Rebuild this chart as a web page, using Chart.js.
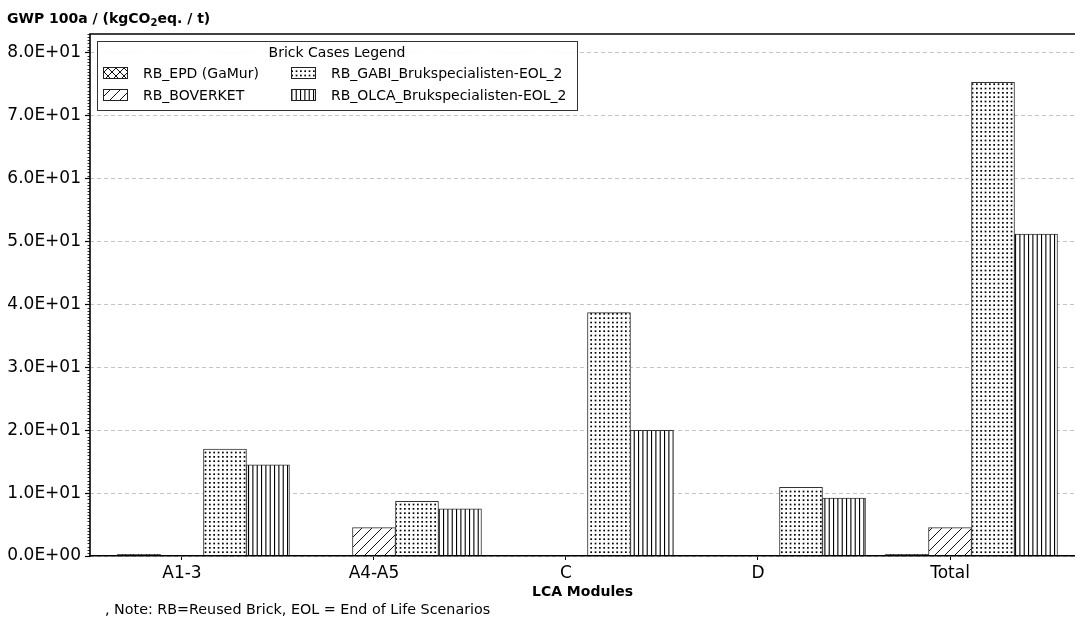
<!DOCTYPE html>
<html>
<head>
<meta charset="utf-8">
<title>GWP 100a by LCA module</title>
<script src="https://cdn.jsdelivr.net/npm/chart.js@4.4.1/dist/chart.umd.min.js"></script>
<style>
  html, body { margin: 0; padding: 0; background: #ffffff; overflow: hidden; }
  canvas { display: block; }
</style>
</head>
<body>
<canvas id="chart" width="1075" height="622"></canvas>
<script>
// ---- data -------------------------------------------------------------
const modules = ['A1-3', 'A4-A5', 'C', 'D', 'Total'];
const caseNames = [
  'RB_EPD (GaMur)',
  'RB_BOVERKET',
  'RB_GABI_Brukspecialisten-EOL_2',
  'RB_OLCA_Brukspecialisten-EOL_2'
];
const rbEpd      = [0.25, null, null, null, 0.25];
const rbBoverket = [null, 4.5, null, null, 4.5];
const rbGabi     = [17.0, 8.7, 38.7, 10.9, 75.3];
const rbOlca     = [14.5, 7.5, 20.0, 9.2, 51.2];
const yTickValues = [0, 10, 20, 30, 40, 50, 60, 70, 80];

const yTitle = ['GWP 100a / (kgCO', '2', 'eq. / t)'];
const xTitle = 'LCA Modules';
const legendTitle = 'Brick Cases Legend';
const noteText = ', Note: RB=Reused Brick, EOL = End of Life Scenarios';

// ---- hatch patterns ---------------------------------------------------
const FONT = "'DejaVu Sans', 'Liberation Sans', sans-serif";
const canvas = document.getElementById('chart');
const mainCtx = canvas.getContext('2d');

function hatch(kind) {
  const t = document.createElement('canvas');
  let w = 10, h = 10;
  if (kind === 'cross') { w = 8; h = 8; }
  if (kind === 'dots') { w = 13; h = 13; }
  if (kind === 'vert') { w = 13; h = 4; }
  t.width = w; t.height = h;
  const g = t.getContext('2d');
  g.fillStyle = '#ffffff';
  g.fillRect(0, 0, w, h);
  g.strokeStyle = '#111111';
  g.fillStyle = '#111111';
  g.lineWidth = 1;
  if (kind === 'cross') {
    g.beginPath();
    g.moveTo(0, 0); g.lineTo(w, h);
    g.moveTo(0, h); g.lineTo(w, 0);
    g.stroke();
  } else if (kind === 'diag') {
    g.beginPath();
    g.moveTo(0, h); g.lineTo(w, 0);
    g.moveTo(-w / 2, h / 2); g.lineTo(w / 2, -h / 2);
    g.moveTo(w / 2, h * 1.5); g.lineTo(w * 1.5, h / 2);
    g.stroke();
  } else if (kind === 'dots') {
    g.fillStyle = '#000000';
    const pos = [1, 5.33, 9.67];
    for (const px of pos) for (const py of pos) g.fillRect(px, py, 1.7, 1.7);
  } else if (kind === 'vert') {
    g.fillStyle = '#000000';
    for (const px of [1, 5.33, 9.67]) g.fillRect(px, 0, 1.1, h);
  }
  return mainCtx.createPattern(t, 'repeat');
}

const fills = [hatch('cross'), hatch('diag'), hatch('dots'), hatch('vert')];
const seriesValues = [rbEpd, rbBoverket, rbGabi, rbOlca];

function sci(v) {
  if (v === 0) return '0.0E+00';
  const e = Math.floor(Math.log10(Math.abs(v)));
  const m = v / Math.pow(10, e);
  return m.toFixed(1) + 'E' + (e < 0 ? '-' : '+') + String(Math.abs(e)).padStart(2, '0');
}

// A leading empty slot keeps each group's second bar centred on its module tick.
const datasets = [{ label: '', data: [], backgroundColor: 'rgba(0,0,0,0)', borderWidth: 0 }];
seriesValues.forEach((vals, k) => {
  datasets.push({
    label: caseNames[k],
    data: vals.map((v, i) => ({ x: i, y: v })),
    backgroundColor: fills[k],
    borderColor: '#333333',
    borderWidth: 1,
    borderSkipped: 'start',
    barThickness: 43
  });
});

// ---- decorations drawn around the plot ---------------------------------
const decorations = {
  id: 'decorations',
  afterDraw(chart) {
    const ctx = chart.ctx;
    const area = chart.chartArea;
    const y = chart.scales.y;
    ctx.save();

    // solid left axis line
    ctx.strokeStyle = '#000000';
    ctx.lineWidth = 1.6;
    ctx.beginPath();
    ctx.moveTo(area.left, area.top);
    ctx.lineTo(area.left, area.bottom + 0.8);
    ctx.stroke();

    // minor ticks on the value axis
    ctx.lineWidth = 0.8;
    ctx.beginPath();
    for (let v = 0; v <= y.max + 1e-9; v += 0.5) {
      if (Math.abs(v % 10) < 1e-9) continue;
      const py = Math.round(y.getPixelForValue(v)) + 0.5;
      ctx.moveTo(area.left - 2.5, py);
      ctx.lineTo(area.left, py);
    }
    ctx.stroke();

    // top frame line
    ctx.lineWidth = 1.6;
    ctx.beginPath();
    ctx.moveTo(area.left - 0.8, area.top);
    ctx.lineTo(area.right, area.top);
    ctx.stroke();

    // axis unit label
    ctx.fillStyle = '#000000';
    ctx.textBaseline = 'alphabetic';
    ctx.textAlign = 'left';
    let tx = 7;
    ctx.font = 'bold 14px ' + FONT;
    ctx.fillText(yTitle[0], tx, 23);
    tx += ctx.measureText(yTitle[0]).width;
    ctx.font = 'bold 10px ' + FONT;
    ctx.fillText(yTitle[1], tx, 26);
    tx += ctx.measureText(yTitle[1]).width;
    ctx.font = 'bold 14px ' + FONT;
    ctx.fillText(yTitle[2], tx, 23);

    // footnote
    ctx.font = '14.3px ' + FONT;
    ctx.textBaseline = 'middle';
    ctx.fillText(noteText, 105, 610);

    // legend box
    const lx = 97, ly = 41, lw = 480, lh = 69;
    ctx.fillStyle = 'rgba(255,255,255,0.9)';
    ctx.fillRect(lx, ly, lw, lh);
    ctx.strokeStyle = '#333333';
    ctx.lineWidth = 1;
    ctx.strokeRect(lx + 0.5, ly + 0.5, lw, lh);
    ctx.fillStyle = '#000000';
    ctx.font = '14px ' + FONT;
    ctx.textAlign = 'center';
    ctx.fillText(legendTitle, lx + lw / 2, 53);
    ctx.textAlign = 'left';
    const cols = [103, 291];
    const rows = [73, 95];
    chart.data.datasets.forEach((ds, di) => {
      if (di === 0) return;
      const k = di - 1;
      const sx = cols[Math.floor(k / 2)];
      const sy = rows[k % 2];
      ctx.fillStyle = ds.backgroundColor;
      ctx.fillRect(sx, sy - 6, 24, 11);
      ctx.strokeStyle = '#222222';
      ctx.lineWidth = 1;
      ctx.strokeRect(sx + 0.5, sy - 5.5, 24, 11);
      ctx.fillStyle = '#000000';
      ctx.fillText(ds.label, sx + 40, sy + 1);
    });
    ctx.restore();
  }
};

new Chart(canvas, {
  type: 'bar',
  data: { datasets },
  options: {
    responsive: false,
    animation: false,
    devicePixelRatio: 1,
    layout: { padding: { top: 34, right: 0, bottom: 0, left: 0 } },
    plugins: { legend: { display: false }, tooltip: { enabled: false } },
    scales: {
      x: {
        type: 'linear',
        min: -0.479,
        max: 4.651,
        offset: false,
        afterBuildTicks(scale) {
          scale.ticks = modules.map((_, i) => ({ value: i }));
        },
        afterFit(scale) { scale.height = 66; },
        ticks: {
          autoSkip: false,
          maxRotation: 0,
          padding: 3,
          color: '#000000',
          font: { family: FONT, size: 17 },
          callback: (v) => modules[v]
        },
        grid: {
          offset: false,
          drawOnChartArea: false,
          drawTicks: true,
          tickLength: 4,
          tickColor: '#000000',
          tickWidth: 1
        },
        border: { display: true, color: '#000000', width: 1.6, z: 1 },
        title: {
          display: true,
          text: xTitle,
          color: '#000000',
          font: { family: FONT, size: 14, weight: 'bold' },
          padding: { top: 0, bottom: 21 }
        }
      },
      y: {
        min: 0,
        max: 83,
        afterBuildTicks(scale) {
          scale.ticks = yTickValues.map((v) => ({ value: v }));
        },
        afterFit(scale) { scale.width = 90; },
        ticks: {
          padding: 4,
          color: '#000000',
          font: { family: FONT, size: 17 },
          callback: (v) => sci(v)
        },
        grid: {
          color: '#c4c4c4',
          lineWidth: 1,
          drawTicks: true,
          tickLength: 5,
          tickColor: '#000000',
          tickWidth: 1.2,
          tickBorderDash: []
        },
        border: { display: false, dash: [4, 3] }
      }
    }
  },
  plugins: [decorations]
});
</script>
</body>
</html>
